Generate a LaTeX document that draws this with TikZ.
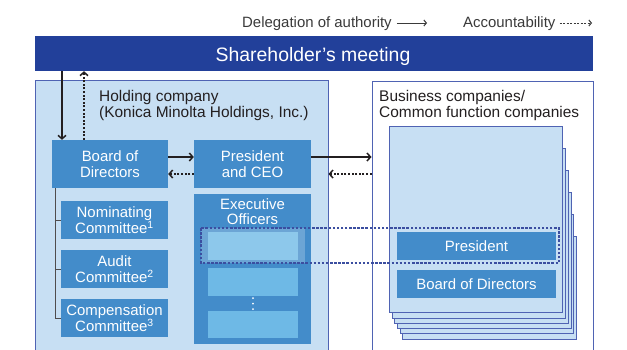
\documentclass[tikz,border=0pt]{standalone}
\usepackage{fontspec}
\setmainfont{Liberation Sans}
\usetikzlibrary{arrows.meta,fit,calc}
\definecolor{barblue}{HTML}{22409A}
\definecolor{boxblue}{HTML}{438CCA}
\definecolor{holdfill}{HTML}{C7DFF3}
\definecolor{edgeblue}{HTML}{4F63B3}
\definecolor{innerblue}{HTML}{6EB9E6}
\definecolor{inkdark}{HTML}{231F20}
\definecolor{legendgray}{HTML}{3A3A3A}
\definecolor{dashblue}{HTML}{3B4EA0}
\begin{document}
\begin{tikzpicture}[x=1bp,y=-1bp,
  every node/.style={font=\fontsize{15}{16}\selectfont, inner sep=0pt},
  bluebox/.style={fill=boxblue, text=white, align=center},
  innerbox/.style={fill=innerblue},
  page/.style={fill=holdfill, draw=edgeblue, line width=0.9bp},
  frame/.style={draw=edgeblue, line width=1bp},
  darktext/.style={text=inkdark, align=left, font=\fontsize{15.5}{16}\selectfont},
  solidarrow/.style={draw=inkdark, line width=1.5bp, -{Straight Barb[length=3.5bp,width=8bp,line width=1.5bp]}},
  dotarrow/.style={solidarrow, dash pattern=on 2bp off 1.6bp},
  legarrow/.style={draw=legendgray, line width=1bp, -{Straight Barb[length=2.5bp,width=6bp,line width=1bp]}},
  legdot/.style={legarrow, dash pattern=on 2bp off 1.5bp},
  treeline/.style={draw=inkdark!80, line width=1bp},
  hilite/.style={draw=dashblue, line width=1.1bp, dash pattern=on 2.5bp off 1.6bp}
]
\clip (0,0) rectangle (627,349);
\fill[white] (0,0) rectangle (627,349);

% legend
\node[anchor=base west, text=legendgray] (leg1) at (242,27) {Delegation of authority};
\coordinate (leg1tip) at (427,23);
\draw[legarrow] (leg1.east |- leg1tip) ++(5,0) -- (leg1tip);
\node[anchor=base west, text=legendgray] (leg2) at (463,27) {Accountability};
\coordinate (leg2tip) at (592,23);
\draw[legdot] (leg2.east |- leg2tip) ++(4,0) -- (leg2tip);

% shareholder bar
\node[fill=barblue, fit={(35,36) (593,71)}, text=white,
      font=\fontsize{19.5}{20}\selectfont] (share) {};
\node[text=white, font=\fontsize{19.5}{20}\selectfont, anchor=base] (sharetext) at (313,61) {Shareholder’s meeting};

% main frames
\node[frame, fill=holdfill, fit={(35,80) (328,360)}] (holding) {};
\node[frame, fit={(372,81) (593,360)}] (biz) {};

\node[darktext, anchor=north west] (holdtext) at (99,90) {Holding company\\(Konica Minolta Holdings, Inc.)};
\node[darktext, anchor=north west] (biztext) at (379,90) {Business companies/\\Common function companies};

% stacked pages
\foreach \l/\t/\r/\b in {402/236/576/339, 400/214/573/333, 397/192/571/328, 394/170/568/323, 392/148/565/318}
  \filldraw[page] (\l,\t) rectangle (\r,\b);
\filldraw[page] (389,126) rectangle (562,312);
\node[bluebox, fit={(397,232) (556,260)}] (bpres) {};
\node[text=white] at (bpres.center) (bprestext) {President};
\node[bluebox, fit={(397,270) (556,298)}] (bboard) {};
\node[text=white] at (bboard.center) (bboardtext) {Board of Directors};

% holding company boxes
\node[bluebox, fit={(52,140) (168,188)}] (board) {};
\node[text=white, align=center] at (board.center) (boardtext) {Board of\\Directors};
\node[bluebox, fit={(194,140) (311,188)}] (pres) {};
\node[text=white, align=center] at (pres.center) (prestext) {President\\and CEO};

\node[bluebox, fit={(61,201) (168,239)}] (nom) {};
\node[text=white, align=center] at (nom.center) (nomtext) {Nominating\\Committee\textsuperscript{1}};
\node[bluebox, fit={(61,250) (168,288)}] (aud) {};
\node[text=white, align=center] at (aud.center) (audtext) {Audit\\Committee\textsuperscript{2}};
\node[bluebox, fit={(61,299) (168,337)}] (comp) {};
\node[text=white, align=center] at (comp.center) (comptext) {Compensation\\Committee\textsuperscript{3}};

\node[bluebox, fit={(194,194) (311,344)}] (exec) {};
\node[text=white, align=center, anchor=north] (exectext) at (252.5,198) {Executive\\Officers};
\node[innerbox, fit={(208,232) (298,260)}] (eo1) {};
\node[innerbox, fit={(208,268) (298,296)}] (eo2) {};
\node[innerbox, fit={(208,311) (298,338)}] (eo3) {};
\foreach \y in {298,303.5,309} \fill[white] (253,\y) circle (1);

% tree
\draw[treeline] (board.south -| 55,0) -- (comp.west -| 55,0) -- (comp.west);
\draw[treeline] (nom.west -| 55,0) -- (nom.west);
\draw[treeline] (aud.west -| 55,0) -- (aud.west);

% arrows
\draw[solidarrow] (share.south -| 62,0) -- (board.north -| 62,0);
\draw[dotarrow] (board.north -| 84,0) -- (share.south -| 84,0);
\draw[solidarrow] (board.east |- 0,157) -- (pres.west |- 0,157);
\draw[dotarrow] (pres.west |- 0,174) -- (board.east |- 0,174);
\draw[solidarrow] (pres.east |- 0,157) -- (biz.west |- 0,157);
\draw[dotarrow] (biz.west |- 0,174) -- (holding.east |- 0,174);

% highlight
\fill[white, opacity=0.22] (201,228) rectangle (305,263);
\draw[hilite] (201,228) rectangle (559,263);
\end{tikzpicture}
\end{document}
